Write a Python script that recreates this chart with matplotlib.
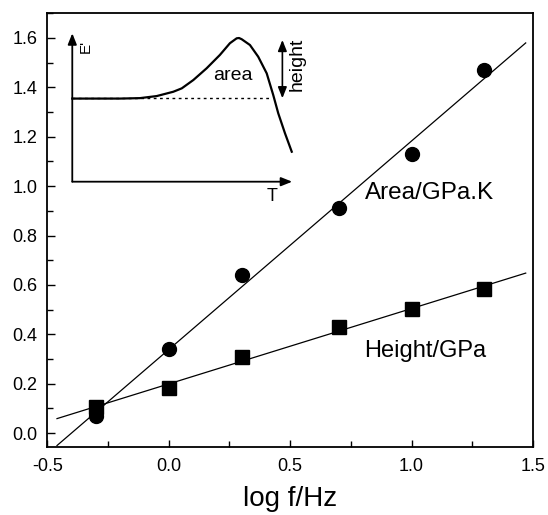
import numpy as np
import matplotlib
matplotlib.use("Agg")
import matplotlib.pyplot as plt
from matplotlib.ticker import MultipleLocator

plt.rcParams['font.family'] = ['Liberation Sans', 'DejaVu Sans']

# Measured values vs. log frequency
log_f = [-0.3, 0.0, 0.3, 0.7, 1.0, 1.3]
area = [0.07, 0.34, 0.64, 0.912, 1.13, 1.472]
height = [0.105, 0.182, 0.309, 0.428, 0.502, 0.585]

# Extent of the fitted lines
fit_range = [-0.46, 1.47]

# Schematic E' vs T curve for the inset (arbitrary units)
sketch_T = [0.0, 0.219, 0.311, 0.388, 0.464, 0.503, 0.556, 0.617, 0.678,
            0.724, 0.755, 0.766, 0.778, 0.816, 0.854, 0.893, 0.923, 0.946,
            0.977, 1.008]
sketch_E = [0.560, 0.560, 0.563, 0.577, 0.606, 0.629, 0.685, 0.764, 0.854,
            0.933, 0.966, 0.968, 0.960, 0.921, 0.842, 0.730, 0.584, 0.461,
            0.326, 0.202]
baseline_E = 0.562

fig = plt.figure(figsize=(5.48, 5.15), dpi=100)
ax = fig.add_axes([0.0863, 0.1326, 0.8863, 0.8416])

xs = np.array(fit_range)
for yv in (area, height):
    k, b = np.polyfit(log_f, yv, 1)
    ax.plot(xs, k * xs + b, color='black', lw=0.9, zorder=2)

ax.plot(log_f, area, 'o', color='black', ms=10, zorder=3)
ax.plot(log_f, height, 's', color='black', ms=9.5, zorder=3)

ax.set_xlim(-0.5, 1.5)
ax.set_ylim(-0.055, 1.70)
ax.xaxis.set_major_locator(MultipleLocator(0.5))
ax.xaxis.set_minor_locator(MultipleLocator(0.25))
ax.yaxis.set_major_locator(MultipleLocator(0.2))
ax.yaxis.set_minor_locator(MultipleLocator(0.1))
ax.xaxis.set_major_formatter(matplotlib.ticker.FormatStrFormatter('%.1f'))
ax.yaxis.set_major_formatter(matplotlib.ticker.FormatStrFormatter('%.1f'))
ax.tick_params(which='both', direction='in', top=False, right=False,
               labelsize=13, width=1.0)
ax.tick_params(axis='y', which='major', length=5.5, pad=7)
ax.tick_params(axis='y', which='minor', length=4)
ax.tick_params(axis='x', which='major', length=5, pad=8)
ax.tick_params(axis='x', which='minor', length=4)
for s in ax.spines.values():
    s.set_linewidth(1.3)

ax.set_xlabel('log f/Hz', fontsize=20, labelpad=8)

ax.text(0.81, 0.972, 'Area/GPa.K', fontsize=17.5, va='center', ha='left')
ax.text(0.805, 0.331, 'Height/GPa', fontsize=17, va='center', ha='left')

# Inset sketch
ins = fig.add_axes([0.1319, 0.6472, 0.3973, 0.2882])
ins.set_xlim(0, 1)
ins.set_ylim(0, 1)
ins.axis('off')
ins.patch.set_alpha(0)

arrow_kw = dict(arrowstyle='-|>,head_length=0.55,head_width=0.22',
                color='black', lw=1.3, shrinkA=0, shrinkB=0,
                mutation_scale=12)
ins.annotate('', xy=(1.01, 0), xytext=(0, 0), arrowprops=arrow_kw,
             annotation_clip=False)
ins.annotate('', xy=(0, 1.0), xytext=(0, 0), arrowprops=arrow_kw,
             annotation_clip=False)

ins.plot(sketch_T, sketch_E, color='black', lw=1.6, clip_on=False,
         solid_joinstyle='round')
ins.plot([0, 0.916], [baseline_E, baseline_E], color='black', lw=1.0,
         ls=(0, (2, 2.5)), clip_on=False)

dbl_kw = dict(arrowstyle='<|-|>,head_length=0.55,head_width=0.22',
              color='black', lw=1.2, shrinkA=0, shrinkB=0,
              mutation_scale=12)
ins.annotate('', xy=(0.965, 0.955), xytext=(0.965, baseline_E),
             arrowprops=dbl_kw, annotation_clip=False)

ins.text(1.035, 0.793, 'height', rotation=90, fontsize=14,
         ha='center', va='center')
ins.text(0.736, 0.714, 'area', fontsize=14, ha='center', va='center')
ins.text(0.063, 0.908, "E'", rotation=90, fontsize=11,
         ha='center', va='center')
ins.text(0.917, -0.103, 'T', fontsize=13, ha='center', va='center')

fig.savefig('out.png', dpi=100)
